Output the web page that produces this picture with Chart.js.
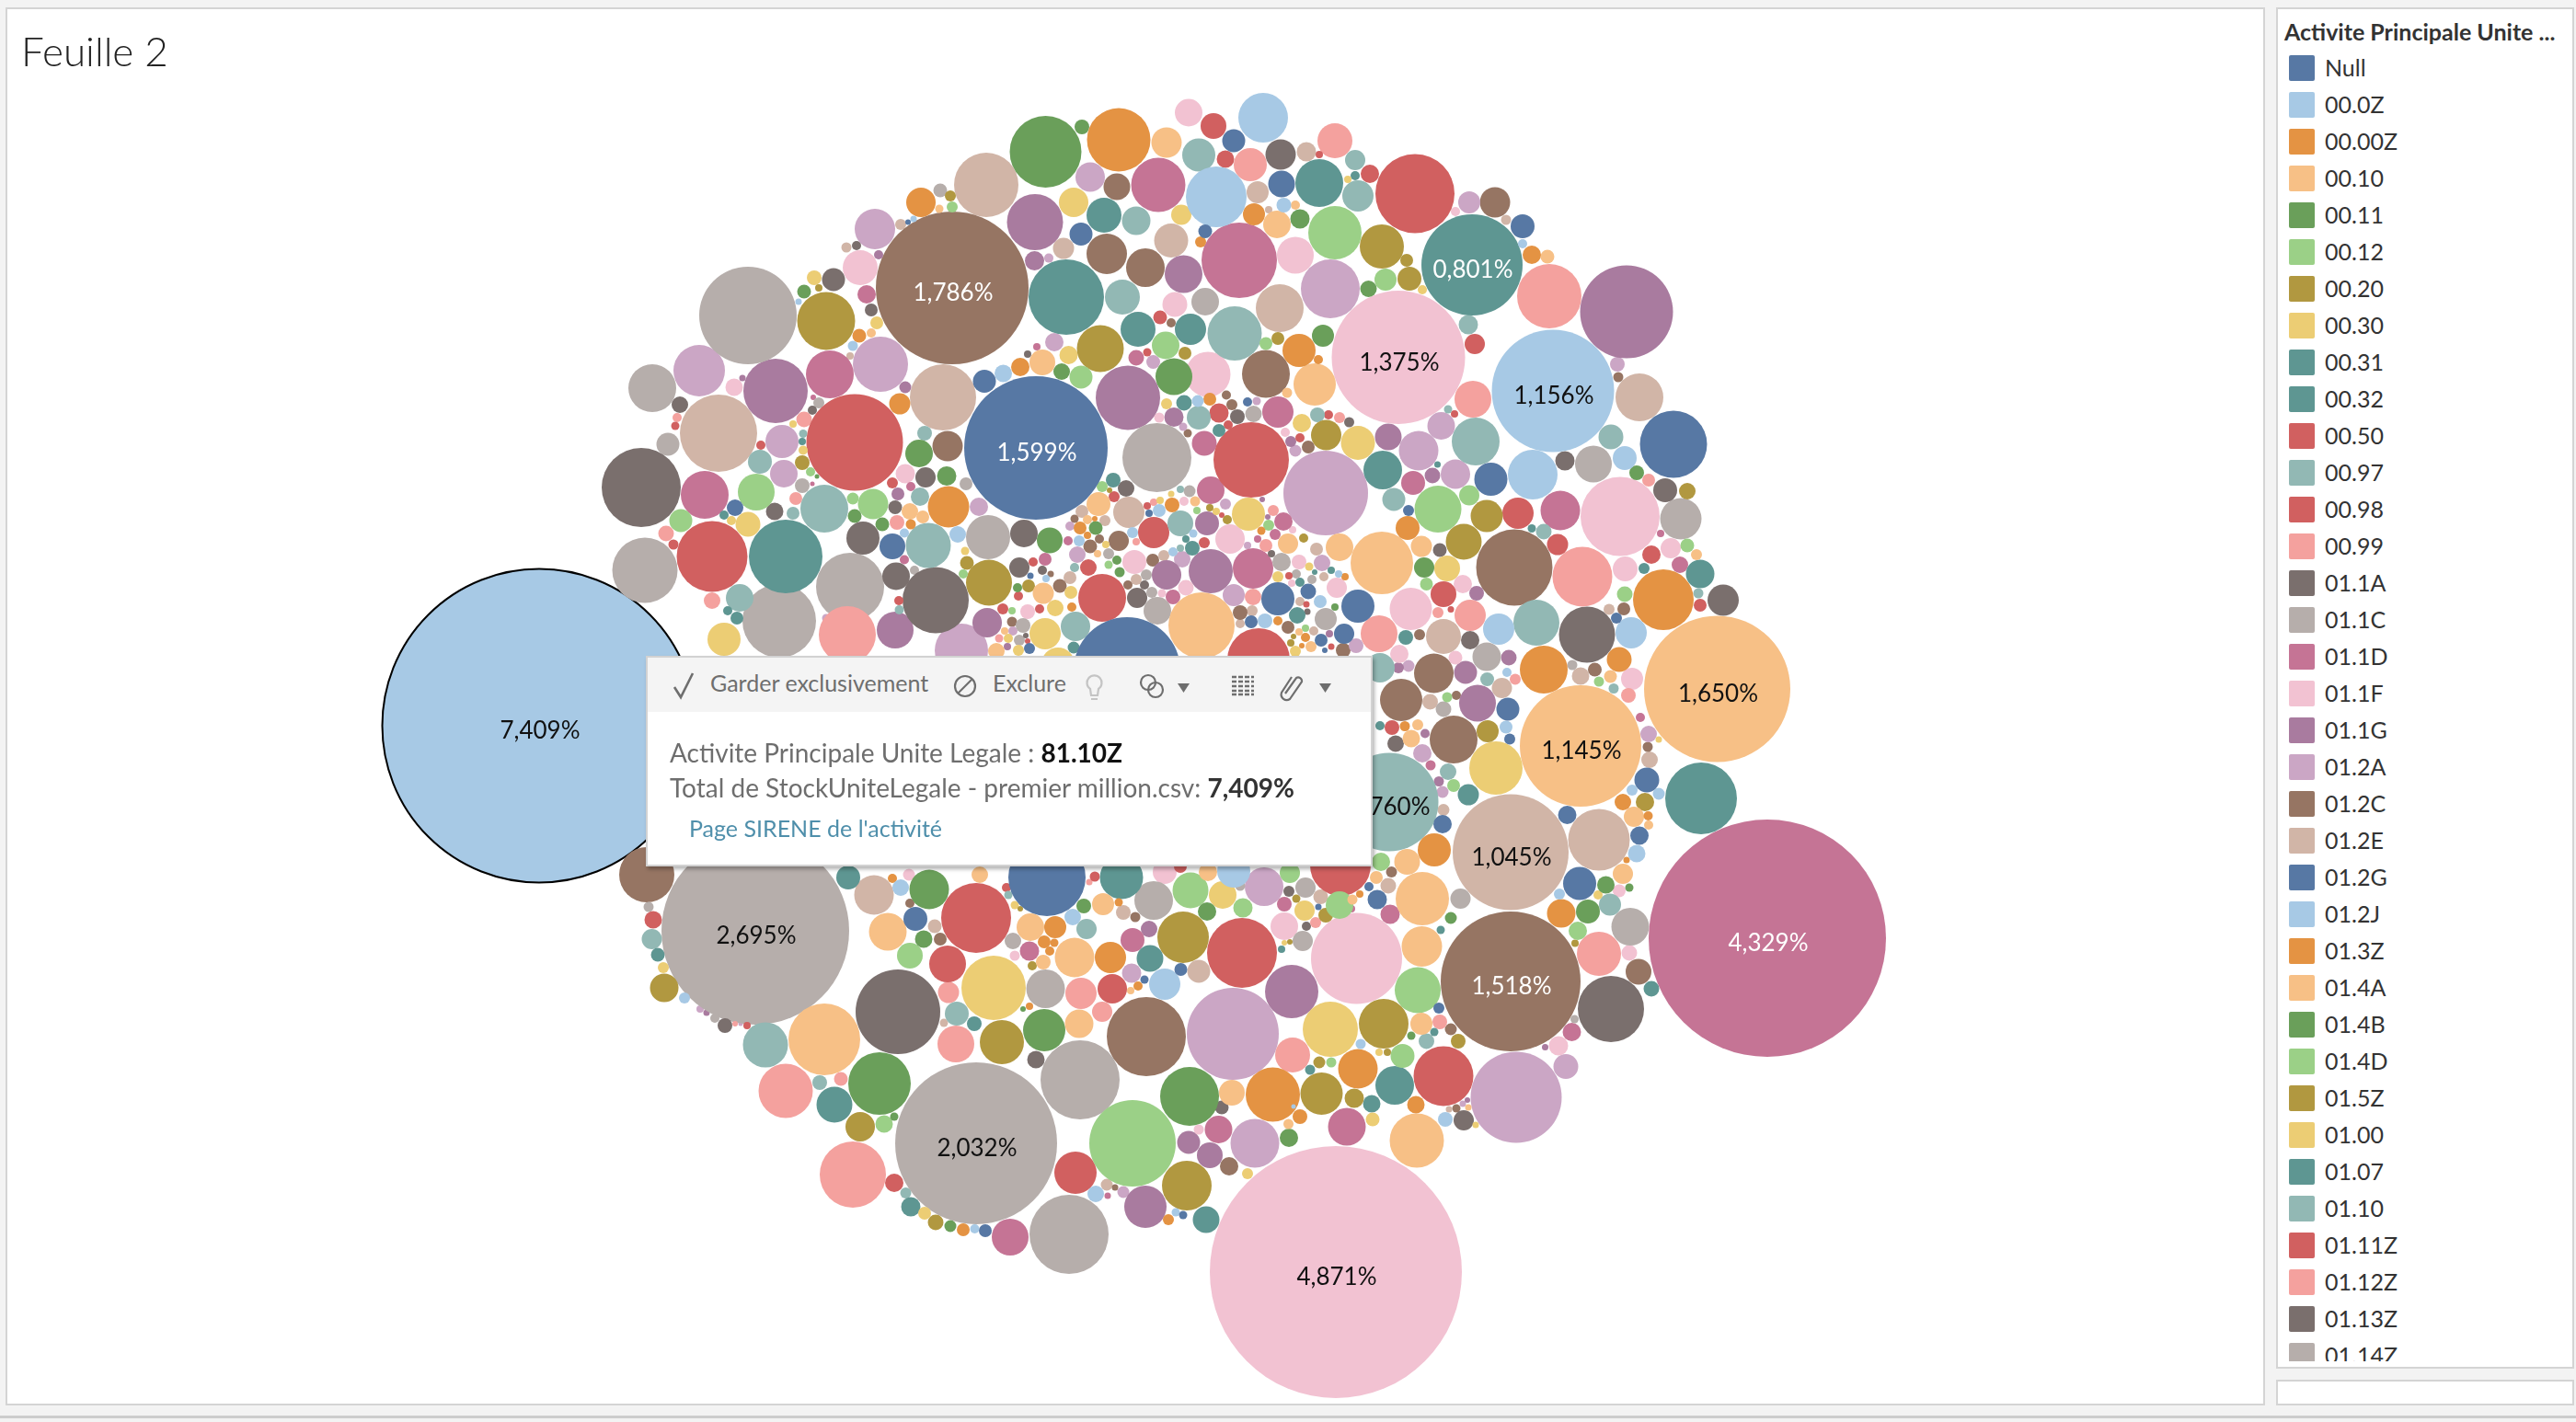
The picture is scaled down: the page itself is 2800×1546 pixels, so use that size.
<!DOCTYPE html>
<html>
<head>
<meta charset="utf-8">
<title>Feuille 2</title>
<script src="https://cdn.jsdelivr.net/npm/chart.js@4"></script>
<style>
  html, body { margin: 0; padding: 0; width: 2800px; height: 1546px; overflow: hidden; background: #f3f3f3; font-family: Lato, "Open Sans", sans-serif; }
  .panel { position: absolute; box-sizing: border-box; background: #fff; border: 2px solid #d4d4d4; }
  #main { left: 6px; top: 8px; width: 2456px; height: 1520px; }
  #side { left: 2474px; top: 8px; width: 324px; height: 1480px; overflow: hidden; }
  #sideLow { left: 2474px; top: 1500px; width: 324px; height: 28px; }
  #bar { position: absolute; left: 0; top: 1539px; width: 2800px; height: 3px; background: #cdcdcd; }
  #title { position: absolute; left: 23px; top: 28px; font-size: 44px; font-weight: 300; color: #222; line-height: 54px; }
  #chart { position: absolute; left: 0; top: 0; }
  #legendTitle { position: absolute; left: 7px; top: 7px; font-size: 25px; font-weight: 700; color: #333; white-space: nowrap; line-height: 34px; }
  #legendBox { position: absolute; left: 0; top: 0; width: 320px; height: 1470px; overflow: hidden; }
  .row { position: absolute; left: 12px; height: 28px; }
  .row i { position: absolute; left: 0; top: 0; width: 28px; height: 28px; border-radius: 2px; }
  .row span { position: absolute; left: 39px; top: -4px; font-size: 25px; line-height: 34px; color: #333; }
  #tip { position: absolute; left: 702px; top: 713px; width: 790px; height: 229px; box-sizing: border-box; background: #fff; border: 2px solid #d2d2d2; box-shadow: 2px 3px 4px rgba(0,0,0,.3); color: #6e6e6e; }
  #tipHead { position: absolute; left: 0; top: 0; right: 0; height: 59px; background: #f4f4f4; }
  #tip div.t { position: absolute; white-space: nowrap; font-size: 25px; line-height: 34px; }
  #tip div.body { font-size: 28px; }
  #tip svg { position: absolute; left: 0; top: 0; }
  #tip b { color: #111; font-weight: 700; }
</style>
</head>
<body>
<div id="main" class="panel"></div>
<div id="side" class="panel"><div id="legendBox"></div><div id="legendTitle">Activite Principale Unite ...</div></div>
<div id="sideLow" class="panel"></div>
<div id="bar"></div>
<canvas id="chart" width="2800" height="1546"></canvas>
<div id="title">Feuille 2</div>
<div id="tip">
  <div id="tipHead"></div>
  <svg width="786" height="59" fill="none" stroke="#6e6e6e" stroke-width="2.2">
    <path d="M29 32 L36 43 L49 17" stroke-width="2.6"/>
    <circle cx="345" cy="31" r="11"/><path d="M337 39 L353 23"/>
    <path d="M490 34 a8 8 0 1 0 -9 0 l1 7 h7 z M482 45 h7" stroke="#c4c4c4"/>
    <circle cx="544" cy="27" r="8"/><circle cx="552" cy="35" r="8"/>
    <path d="M576 28 h13 l-6.500 10 z" fill="#6e6e6e" stroke="none"/>
    <path d="M635 21 h24 M635 26 h24 M635 31 h24 M635 36 h24 M635 40 h24" stroke-dasharray="5 2" stroke-width="2.4"/>
    <path d="M693 39 l12 -17 a4 4 0 0 1 6 4 l-13 19 a6 6 0 0 1 -9 -7 l11 -17" />
    <path d="M730 28 h13 l-6.500 10 z" fill="#6e6e6e" stroke="none"/>
  </svg>
  <div class="t" style="left:68px;top:10px">Garder exclusivement</div>
  <div class="t" style="left:375px;top:10px">Exclure</div>
  <div class="t body" style="left:24px;top:86px">Activite Principale Unite Legale : <b>81.10Z</b></div>
  <div class="t body" style="left:24px;top:124px">Total de StockUniteLegale - premier million.csv: <b style="color:#333">7,409%</b></div>
  <div class="t" style="left:45px;top:168px;color:#4f8fab">Page SIRENE de l'activité</div>
</div>
<script>
// legend entries, in reading order
const legendCategories = ['Null','00.0Z','00.00Z','00.10','00.11','00.12','00.20','00.30','00.31','00.32','00.50','00.97','00.98','00.99','01.1A','01.1C','01.1D','01.1F','01.1G','01.2A','01.2C','01.2E','01.2G','01.2J','01.3Z','01.4A','01.4B','01.4D','01.5Z','01.00','01.07','01.10','01.11Z','01.12Z','01.13Z','01.14Z'];
const legendGroups = ['bl','lb','or','lo','gn','lg','ol','ye','te','te','re','lt','re','pk','dg','ly','ma','lp','pu','lv','br','ta','bl','lb','or','lo','gn','lg','ol','ye','te','lt','re','pk','dg','ly'];

const palette = {
  bl:'#5778a4', lb:'#a7c9e5', or:'#e49343', lo:'#f7c086', gn:'#6a9f5a', lg:'#9bd087', ol:'#b19840', ye:'#eccd74', te:'#5e9692', lt:'#92b8b4',
  re:'#d16060', pk:'#f4a19e', dg:'#7a6f6d', ly:'#b6aeab', ma:'#c57495', lp:'#f2c2d2', pu:'#a97b9f', lv:'#cba6c5', br:'#967563', ta:'#d1b5a7'
};

// bubbles: x, y, size, group, label
const selected = [[586,789,170.5,'lb','7,409%']];

const big = [
  [1035,313,83,'br','1,786%'],[1126,487,78,'bl','1,599%'],[1520,388.5,72.5,'lp','1,375%'],[1600,288,55,'te','0,801%'],[1688,425,66.5,'lb','1,156%'],
  [1866.5,749,79.5,'lo','1,650%'],[1718,811,66,'lo','1,145%'],[1510,872,53.5,'lt','1,760%'],[1642,926.5,63,'ta','1,045%'],[1642,1067,76,'br','1,518%'],
  [1921,1020,129,'ma','4,329%'],[1452,1383,137,'lp','4,871%'],[1061,1243,88,'ly','2,032%'],[821,1012,102,'ly','2,695%']
];

const northWest = [
  [697,530,43,'dg'],[813,343,53,'ly'],[709,422,26,'ly'],[760,403,28,'lv'],[781,471,42,'ta'],[843,425,35,'pu'],[902,407,26,'ma'],[957,396,30,'lv'],[898,349,31.5,'ol'],
  [1072,201,35,'ta'],[1136.5,165,39,'gn'],[1176,138,8,'gn'],[1216,152,34.5,'or'],[1292,122.5,15,'lp'],[1268,155,16.5,'lo'],[1303,168.5,18,'lt'],[1185,192.5,16,'lv'],
  [1214,203,14.5,'br'],[1259,201,29.5,'ma'],[1125,241.5,30.5,'pu'],[1167,220,16,'ye'],[1200,234,19,'te'],[1235,240,15.5,'lt'],[1284,233.5,11,'ye'],[1175,254.5,12.5,'bl'],
  [1273,261.5,18.5,'ta'],[1203,276,22,'br'],[1245,291,21,'br'],[1156,270,11.5,'ta'],[1124.5,283.6,10.5,'pu'],[1140,280.6,5,'lv'],[1159,323,41,'te'],[1220,323,19,'lt'],
  [1286.5,298,20.5,'pu'],[1277,331,13.5,'lp'],[1310,328,15,'ly'],[1237,358,19,'te'],[1294,358,17,'te'],[1261,345,7.5,'re'],[1273,351,5,'br'],[1196,379,25.5,'ol'],
  [1267,375.5,15,'lg'],[1288,384,7,'ol'],[1235,389,8.5,'ma'],[1247,383,4.5,'re'],[1253.5,393.5,7.5,'lv'],[1276,409.5,20,'gn'],[1226,432.5,35,'pu'],[1313,407,24.5,'lp'],
  [1025,432,36,'ta'],[984,421,6.5,'pu'],[978,439,11.5,'or'],[929,481,52.5,'re'],[1070,414.5,12.5,'bl'],[1090.5,406,9.5,'lb'],[1109,399,10,'or'],[1133,394,14,'lo'],
  [1146,372,10,'lv'],[1161.5,386,10,'ye'],[1154,404,9,'gn'],[1175,410,12.5,'lg'],[1127,377,4,'ma'],[1117,385,4,'dg'],[1001,220,16,'or'],[1022,207,7.5,'ly'],[1033,213,6,'ol'],
  [1035,225,6,'lg'],[1021,227,4.5,'lo'],[951,249,22,'lv'],[979,244,6,'ta'],[987,241.5,3,'bl'],[993,238,3.5,'lb'],[935,291,19,'lp'],[955,277,5,'pu'],[920,269,5.5,'ta'],
  [931,267,5,'dg'],[885,302,8,'ye'],[906,304,12.5,'dg'],[874,317,7.5,'gn'],[890,313,4,'ol'],[868,328,3.5,'lb'],[942,320,10,'ma'],[947,337,7,'dg'],[953,351,7,'ye'],
  [934,365,7.5,'or'],[947,362,5,'lo'],[927,376,5.5,'lb'],[924,387,4,'ta'],[798,421,9.500,'lp'],[807,411,3.5,'pu'],[739,440,9,'dg'],[736,454,5,'pk'],[734,463,4.5,'re'],
  [726,483,12.5,'ly'],[850,480,18,'lv'],[852,515,15,'lv'],[826,502,13,'lt'],[827,484,5,'re'],[874,456,8.5,'pk'],[862,461,4,'ye'],[873,471.5,4.5,'lt'],[872,480,4,'te'],
  [873,489.5,5,'ye'],[872,503,8,'ol'],[890,438,6,'ly'],[883,446,5,'dg'],[884,432,3,'ma'],[881,513,5,'lg'],[888,518,2.500,'gn'],[872,528,8,'ly'],[883,526,2.500,'ma'],
  [766,538,26,'ma'],[822,535,20,'lg'],[896,553,26,'lt'],[949,548,16.5,'lg'],[927,542,6.5,'lg'],[929,561,7.5,'gn'],[938,585,18,'dg'],[959,570,7.5,'gn'],[970,594,14,'bl'],
  [1009,593,24.5,'lt'],[1031,551,22.5,'or'],[1041,581,9,'lb'],[1064,551,10,'lv'],[1074,584,24,'ly'],[1113,580,15,'dg'],[1141,587.5,14,'gn'],[1030,485,16.5,'br'],[999,493,15,'gn'],
  [1005,471,8,'lt'],[1006,519,11,'dg'],[1029,517.5,10.5,'gn'],[984,515,10.5,'lp'],[1050,526,7,'ly'],[970,525,6,'re'],[990,529,5,'ma'],[976,537,7,'pu'],[973,551.5,7.5,'dg'],
  [1000,540,10,'lt'],[989,556,9,'lo'],[1003,562,7,'lo'],[975,568,8,'pk'],[990,570,5.5,'or'],[983,579.5,5,'lb'],[740,566,12.5,'lg'],[799,552,9,'bl'],[787,560,5,'te'],
  [813,570,13.5,'ye'],[795,566,5,'ye'],[842,556,9.5,'dg'],[862,558,7,'lt'],[865,542,7,'pk'],[724,580,8.5,'pk'],[732,592,5.5,'re'],[774,605,38.5,'re'],[854,605,40,'te'],
  [701,620,35.5,'ly'],[774,653,9,'pk'],[804,650,15,'lt'],[791,664,5,'te'],[801,672,7,'te'],[924,638,37,'ly'],[974,626.5,15,'dg'],[994,620,5,'ly'],[1017,652.5,36,'dg'],
  [1075,633.5,25,'ol'],[1051,612,7.5,'ol'],[1049,599,4.5,'ye'],[1047,624,5,'lg'],[983,608.5,5,'ma'],[977,653,5,'re'],[977.5,663,5,'lt'],[787,695,18,'ye'],[847,675,40,'ly'],
  [898,672,4.5,'lv'],[921,690,31,'pk'],[973,685,20,'pu']
];

const centre = [
  [1108,617,11,'dg'],[1123,611,5,'re'],[1136,608,7,'ma'],[1133,620,5,'dg'],[1118,637,7,'ol'],[1106,639,5,'gn'],[1107,648,5,'re'],[1134,645,11.5,'lo'],[1164,644,7,'ye'],
  [1152,637,7.5,'br'],[1163,628,7,'ta'],[1168,617,5,'lt'],[1171,603,9,'lv'],[1173,588,6,'lb'],[1161,588,5,'ma'],[1198,529,6,'lg'],[1210,522,8,'te'],[1224,531,9,'dg'],
  [1206,533,3,'ol'],[1211,540,6,'re'],[1194,548,13,'lo'],[1227,557,17,'ta'],[1176,556,7,'ta'],[1168,564,4.5,'br'],[1182,565,5,'lo'],[1190,564,3,'or'],[1201,566,6,'ta'],
  [1174,574,7,'or'],[1191,574,7.5,'gn'],[1163,572,5,'lv'],[1182,582,4,'or'],[1195,586,5,'br'],[1185,594,7.5,'br'],[1202,592,4,'ye'],[1216,588,11,'br'],[1231,579,6,'lb'],
  [1254,579,17,'re'],[1235,589,4,'pk'],[1233,611,13,'lp'],[1183,617,9,'re'],[1205,614,4.5,'lg'],[1217,622,5.5,'gn'],[1214,609,5,'gn'],[1205,602,6,'ly'],[1193,602,4,'lo'],
  [1198,650,26,'re'],[1236,650,11,'dg'],[1226,636,5,'br'],[1235,630,6,'ta'],[1246,625,6,'ly'],[1253,609,7,'br'],[1265,604,6,'ta'],[1285,608,9,'lv'],[1268,625,16,'pu'],
  [1244,636,5,'dg'],[1252,644,6,'ly'],[1263,645,4.5,'lp'],[1275,649,8,'ma'],[1289,639,8.5,'lp'],[1258,664,15,'ly'],[1306,680,36,'lo'],[1225,729,58,'bl'],[1167,704,6.5,'te'],
  [1150,722,18,'ye'],[1169,681,16,'lt'],[1136,689,17,'ye'],[1083,708,9,'lo'],[1045,707,29,'lv'],[1073,677,16,'pu'],[1090,662,6,'re'],[1100,664,4,'lg'],[1101,686,5,'lv'],
  [1092,686,4,'lo'],[1100,676,5.5,'br'],[1112,680,8,'ly'],[1117,665,8,'lp'],[1130,662,5,'re'],[1147,661,9,'ye'],[1108,696,6,'ly'],[1119,705,6,'bl'],[1107,707,6,'ye'],
  [1096,694,5,'ye'],[1095,703,4,'pu'],[1086,694,4.5,'pk'],[1115,691,3,'dg'],[1117,697,3,'re'],[1165,660,5,'or'],[1137,629,4,'lb'],[1142,624,3.5,'br'],[1120,626,3.5,'bl'],
  [1283,569,14,'lt'],[1312,569,13,'pu'],[1274,549,8,'or'],[1260,555,7,'lb'],[1293,534,6.5,'ly'],[1316,533,15,'ma'],[1283,532,4,'lt'],[1273,537,3.5,'ye'],[1299,545,5.5,'lo'],
  [1261,544,4,'ye'],[1254,546,4,'pk'],[1247,550,4,'re'],[1249,558,4,'bl'],[1287,545,5,'lp'],[1301,555,4,'lg'],[1315,552,4,'ol'],[1322,556,4,'ye'],[1328,560,3,'re'],[1334,565,5,'ol'],
  [1332,548,6,'lv'],[1357,559,18,'ye'],[1360,500,41,'re'],[1441,536,46,'lv'],[1372,543,3,'pu'],[1384,555,6,'pk'],[1378,562,3,'pu'],[1395,567,10,'ma'],[1379,571,6,'lg'],
  [1386,581,6,'ma'],[1371,577,4.5,'or'],[1400,591,11,'lo'],[1337,586,16,'lp'],[1405,576,4,'lp'],[1417,585,5,'ol'],[1367,586,4,'ma'],[1376,593,7,'pk'],[1356,593,4,'lv'],
  [1296,596,8,'te'],[1309,590,6,'re'],[1289,586,4,'te'],[1283,596,4,'lt'],[1275,600,5,'lb'],[1297,580,4.5,'lb'],[1316,621,24,'pu'],[1362,618,22,'ma'],[1393,611,10,'ly'],
  [1382,602,4,'dg'],[1431,597,7,'ta'],[1456,595,15,'lo'],[1412,611,8,'lp'],[1437,612,9,'lv'],[1423,616,4.5,'ye'],[1409,624,5,'ly'],[1401,626,4,'re'],[1389,627,6,'ye'],
  [1404,634,4,'lp'],[1413,633,5,'te'],[1426,630,5,'ly'],[1429,622,3,'te'],[1439,627,5,'ta'],[1447,620,4,'te'],[1455,624,4,'lb'],[1462,627,4,'or'],[1453,639,11,'lp'],
  [1389,651,18,'bl'],[1422,643,8.5,'bl'],[1476,659,18,'bl'],[1362,649,9,'pk'],[1341,647,12,'lv'],[1361,664,6,'ta'],[1348,666,8,'br'],[1360,676,7,'bl'],[1375,675,8,'lb'],
  [1348,678,5,'ta'],[1368,717,34,'re'],[1413,654,5,'ta'],[1435,654,7,'lb'],[1441,673,12,'ly'],[1410,669,9,'te'],[1421,665,3.5,'dg'],[1420,657,3.5,'re'],[1451,660,4,'gn'],
  [1389,675,5,'or'],[1400,682,7,'br'],[1412,687,4,'lo'],[1419,683,4,'lg'],[1428,686,5,'ta'],[1419,693,5,'or'],[1436,696,7,'bl'],[1461,689,11,'bl'],[1445,689,4,'pu'],
  [1403,699,4,'ol'],[1406,692,3,'ol'],[1408,708,6,'ye'],[1415,702,3,'or'],[1425,703,6,'lo'],[1447,703,3.5,'re'],[1440,707,3,'bl'],[1474,702,8,'lv'],[1460,707,8,'br']
];

const northEast = [
  [1373,128,27,'lb'],[1319,137,14,'re'],[1341,153,12.5,'bl'],[1332,173,9.5,'re'],[1359,179,18,'pk'],[1392,168,16.5,'dg'],[1420,165,10.5,'ta'],[1451,153,19,'pk'],[1434,168,4,'re'],
  [1473,174,11,'lt'],[1473,191,5,'te'],[1465,195,4,'ye'],[1489,189,10,'re'],[1434,199,26,'te'],[1393,200,14.5,'bl'],[1476,213,17,'lt'],[1322,214,33,'lb'],[1367,209,12,'ta'],
  [1538,210.5,43,'re'],[1597,220,12,'lv'],[1625,220,16.5,'br'],[1637,239,5.5,'ta'],[1582,230,5,'lp'],[1395.5,223,8,'lb'],[1408,223,5,'lo'],[1379,228,4,'ta'],[1363,233,12,'or'],
  [1388,244,15,'lo'],[1413,238,10.5,'gn'],[1451,253,29,'lg'],[1655,246,13,'bl'],[1655,265,5,'lb'],[1665,277,10,'or'],[1682,279,7.5,'lo'],[1310,251.5,7.5,'bl'],[1305,263,6,'or'],
  [1347,283,41,'ma'],[1408,277.5,20,'lp'],[1502,268,24,'ol'],[1529,283,7,'ol'],[1532,303,13,'ol'],[1506,304,12,'lg'],[1487.5,314,9,'gn'],[1546,315,5,'ye'],[1684,322,35,'pk'],
  [1768,339,50.5,'pu'],[1446,314,32,'lv'],[1391,335,26,'ta'],[1342,362.5,29.5,'lt'],[1596,353,10.5,'lt'],[1603,374,11,'re'],[1758,396,8,'lv'],[1759,410,5.5,'br'],[1782,432,26,'ta'],
  [1819,483,36.5,'bl'],[1376,373.5,7,'lg'],[1389,368,7,'ol'],[1438,365,12,'gn'],[1412,381,18,'or'],[1433,391,5,'or'],[1376,406.5,26,'br'],[1429,418,23,'lo'],[1399,427,5.5,'lo'],
  [1601,434,20,'pk'],[1566.5,463,15,'lv'],[1581,450,4,'re'],[1574,445,4.5,'lt'],[1604,480,26,'lt'],[1751,475,13.5,'lt'],[1732,504.5,20,'ly'],[1766,498,13,'lb'],[1666,516,27,'lb'],
  [1701,501,10.5,'dg'],[1779,514,8,'gn'],[1792,522,7,'pk'],[1810,533,13,'dg'],[1834,534,9,'ol'],[1827,564,22.5,'ly'],[1761,561.5,43,'lp'],[1696,555,21.5,'ma'],[1650,558,17,'re'],
  [1616,561,17.5,'ol'],[1597,538.5,11,'lg'],[1563,553.5,25.5,'lg'],[1620.5,521,18,'bl'],[1582,515.5,16,'lv'],[1557,517,8.5,'pu'],[1562.5,505,3.5,'te'],[1536,525,13,'ma'],
  [1542,490,21.5,'lv'],[1509,475,14.5,'pu'],[1503,511,21,'te'],[1515,543,12.5,'lt'],[1531,555,6,'bl'],[1530,574,13,'or'],[1476,481.5,18.5,'ye'],[1441.5,473,16.5,'ol'],[1422,486,7,'br'],
  [1408,490,6.500,'lv'],[1403,480,6,'pu'],[1413,476,5,'re'],[1415,460,10,'ye'],[1432,451,8,'lt'],[1444,451,5,'re'],[1456,454,6,'pk'],[1466.5,459,5.5,'dg'],[1397,470,5,'lp'],
  [1389,448,17,'ma'],[1362.5,450,9,'ly'],[1345,453,8,'dg'],[1325,449,10.5,'re'],[1339,440,6,'br'],[1315,434,7,'or'],[1333,429.5,5,'br'],[1356,437,5,'bl'],[1366,436,4.5,'lv'],
  [1303,454,13,'lt'],[1325,468,7,'te'],[1335,462,5,'re'],[1309,482,13.5,'ma'],[1502,612,34,'lo'],[1545,594,11.5,'lo'],[1565,598,7.5,'dg'],[1591,589,19.5,'ol'],[1646,617,41.5,'br'],
  [1720,627,32.5,'pk'],[1678,578,8.5,'lt'],[1665,574.5,4.5,'te'],[1693,592,11.5,'re'],[1766.5,618.5,13.5,'lp'],[1795,603,10,'re'],[1816,596,11,'lp'],[1834,593,7.5,'lg'],[1844,603,6,'lo'],
  [1805,580,4,'ma'],[1826,614,9,'ma'],[1787,618,6,'te'],[1848,624,15.5,'te'],[1846,645,5.5,'lt'],[1848,658,7,'re'],[1873,652.5,17,'dg'],[1808,652,33,'or'],[1766,646,8.5,'lg'],
  [1765,662,7,'br'],[1749,662.5,6,'ta'],[1757,672,6,'bl'],[1773,688,17,'lb'],[1725,690,30.5,'dg'],[1670,677,25,'lt'],[1629,684,17,'lb'],[1598,669,17,'pk'],[1533.5,662,23,'lp'],
  [1569,646,14,'re'],[1590,635,10,'lp'],[1605,645,8,'pu'],[1573,618,14,'ye'],[1548,617,11,'gn'],[1550.5,635,7,'lg'],[1563,666,6,'pk'],[1577,662.5,3.5,'re'],
  [1257.5,497.5,37.5,'ly'],[1302,436,6.5,'lb'],[1287,438,8.5,'te'],[1276,453.5,10.5,'pu'],[1268,439,6,'ye'],[1260,454,5.5,'lp'],[1291,471,4.5,'br'],[1286,464,4.500,'lv']
];

const east = [
  [1499,689,20,'pk'],[1569,692,19,'ta'],[1598,696,10,'dg'],[1528,693,8,'te'],[1543,690,6,'br'],[1678,728,26,'or'],[1616,714,15.5,'ly'],[1640,715,8.5,'pu'],[1582,715,7.5,'lp'],
  [1558.5,732,21.5,'br'],[1593,731,12.5,'pu'],[1616.5,738.5,7.5,'lt'],[1638,731,5,'lb'],[1647,738.5,6,'pk'],[1709,723,5.5,'ly'],[1718,735,9.5,'ta'],[1733.5,728,7.5,'br'],[1760,717,13.5,'or'],
  [1750.5,735.5,7,'lo'],[1738,741,5.5,'lg'],[1774,738,12,'lp'],[1754,748.5,5.5,'lt'],[1770,756,8,'pk'],[1783,780,5,'ma'],[1792,798,9,'lv'],[1791,812,5.5,'br'],[1793,826,9,'ta'],
  [1803,804,3.5,'ye'],[1849,868,39,'te'],[1790,848,13.5,'bl'],[1803,863,6.5,'lb'],[1788,872,10,'ol'],[1764,872,9,'or'],[1774,859,6,'lb'],[1776,888,11,'lo'],[1791.5,887,5,'or'],
  [1792,897,5,'lo'],[1782,908.5,10,'bl'],[1779,928,9.5,'lb'],[1768,935,3.500,'or'],[1764,950,11,'lo'],[1738,913,33.5,'ta'],[1703.5,886,10,'bl'],[1717,960.5,18,'bl'],[1745.5,962,9.5,'gn'],
  [1771,965,4.5,'gn'],[1760,968.5,7,'lp'],[1750,983.5,12,'lt'],[1737,973,5,'ye'],[1695,972,6,'lb'],[1697,993,15.5,'or'],[1726,991,13,'gn'],[1715,1012,10,'lg'],[1712,1025.5,4,'ol'],
  [1772,1007.5,20.5,'ly'],[1738,1037,24,'pk'],[1771,1036,8.5,'lp'],[1781,1056.5,14,'br'],[1795,1075,8.5,'te'],[1751,1097,36,'dg'],[1711.5,1108,4.5,'ly'],[1708.5,1122,10,'ma'],
  [1694,1137,10.5,'lp'],[1679.5,1138.5,3.5,'pu'],[1702,1159.5,13.5,'lv'],[1648,1193,49.5,'lv'],[1474.5,1042,49.5,'lp'],[1545.5,1029,22,'lo'],[1546,977,29,'lo'],[1541,1076.5,25,'lg'],
  [1497,978,10.5,'bl'],[1587.5,977,11,'ly'],[1511,994,10.5,'ma'],[1559,924,18,'or'],[1529.5,937,14,'lo'],[1501,937,10,'lg'],[1512.5,948,6,'br'],[1626,835,29,'ye'],[1596,864,11.5,'te'],
  [1580,854,7,'lg'],[1546,819,10,'lv'],[1555,832,5.5,'ma'],[1574,839,9,'lt'],[1564,849.5,5.5,'pu'],[1568,861,6.5,'lv'],[1569,880.5,6.5,'ta'],[1568,896,10,'bl'],[1580,804,26,'br'],
  [1617,795,12,'ol'],[1637,790.5,7,'lb'],[1641,803.5,6,'bl'],[1639,771,12.5,'bl'],[1606,764.5,20,'pu'],[1632.5,748,11,'ta'],[1569,771,8.5,'ly'],[1583,756,5,'br'],[1573,758,5.5,'lg'],
  [1554.5,763,8.5,'ta'],[1523,761,23,'br'],[1517,808.5,9,'dg'],[1534,803,9.5,'lo'],[1513,791,8,'re'],[1527,789.5,5.5,'or'],[1541,788,6,'lo'],[1549,797.5,5,'pu'],[1500,789,5,'te'],
  [1520,726,6,'pu'],[1531,724,6.5,'lv'],[1521,711,10,'lp'],[1500,726,16,'lt'],[1457,941,33,'re'],[1577,998,6.5,'gn'],[1566,1011,4.5,'te'],[1469,988,4,'ma'],[1456,984,15,'lg'],
  [1470,978,5.5,'lo'],[1478,972,4,'or'],[1488,964,5,'bl'],[1509,963,8.5,'ta'],[1496,954,7,'lo'],[1569,1170,32.5,'re'],[1516,1180,21,'te'],[1476,1162,21.5,'or'],[1504,1113,27,'ol'],
  [1524.5,1148,13,'lg'],[1479,1135,5.5,'lb'],[1508,1144,4,'ol'],[1499,1144,4,'ye'],[1545,1113,12,'lo'],[1564,1096,6,'bl'],[1565,1111,8,'pk'],[1577,1119,6.5,'br'],[1534,1126,4.5,'gn'],
  [1559,1122,4.5,'te'],[1550.5,1132,8.5,'lt'],[1585,1132,8,'ol'],[1472,1194,10.5,'ol'],[1491,1200,9.5,'te'],[1492,1217,7.5,'ye'],[1464,1225,20.5,'ma'],[1539,1201,9.5,'or'],[1540,1240,29.5,'lo'],
  [1571,1217,8,'lb'],[1591,1218,11,'dg'],[1583,1205,4.5,'br'],[1590,1200,3.5,'lv'],[1596,1204,3.5,'lo'],[1595,1196,3,'pu'],[1575,1206,3.5,'ta'],[1604,1223,3.5,'ye']
];

const south = [
  [703,951,30,'br'],[705,986,5.5,'ly'],[710,1000,9.5,'re'],[708.5,1021,11,'lt'],[715,1038,7.5,'te'],[721,1052,6,'ye'],[722,1074,15.5,'ol'],[744,1085,6,'lb'],[761,1097,4,'lv'],[768,1101,3.5,'pu'],
  [777,1107,5,'ly'],[788,1115,8,'dg'],[799,1113,3,'pk'],[805,1113,2.5,'lv'],[812,1115,4,'re'],[832,1136,24.5,'lt'],[896,1130,39,'lo'],[854,1186,29.5,'pk'],[891,1177,8,'lt'],[914,1173,7.5,'pk'],
  [907,1201,19.5,'te'],[956,1178,34,'gn'],[935,1225,16,'ol'],[961,1222,9.5,'lg'],[972,1214,4.5,'gn'],[976,1100,46,'dg'],[927,1277,36,'pk'],[972,1286,10,'re'],[984.5,1297,6,'lt'],[990,1312,10.5,'te'],
  [1005,1319,7,'ye'],[1017,1329,8.5,'ol'],[1033,1333,6.5,'gn'],[1047,1337,7,'or'],[1059.5,1336,5,'lb'],[1071,1338,7,'bl'],[1098,1345,20,'ma'],[1162,1342,43,'ly'],[1169,1275,23,'re'],[1231,1243,47,'lg'],
  [1174,1174,43,'ly'],[1126,1152,9.5,'dg'],[1246,1127,43,'br'],[1340,1124,50,'lv'],[1293,1192,32,'gn'],[1339,1188,14,'lo'],[1383.5,1190,29.5,'or'],[1436.5,1189,23,'ol'],[1405,1147,19,'pk'],[1446,1119,30,'ye'],
  [1404,1078,29,'pu'],[1350,1036,38,'re'],[1286,1019,28,'ol'],[1294,968,19.5,'lg'],[1329,973,15,'ye'],[1351,987,10.5,'lg'],[1374,964,21,'lv'],[1312,991,10,'gn'],[1254,979,21,'ly'],[1138,954,42,'bl'],
  [1219,954,23.5,'te'],[1061,998,38,'re'],[1010,967,21.5,'gn'],[950,973,21.5,'ta'],[922,954,13,'te'],[979,965,9,'lb'],[970,955,5,'or'],[988,951,6.5,'lp'],[995,999,13,'bl'],[1016,1007,7.5,'ta'],
  [989,982,5,'br'],[965,1013,20.5,'lo'],[1004,1021,9.5,'gn'],[1022,1021,7,'br'],[989,1039,14,'lg'],[1030,1048,20,'re'],[1080,1074,35,'ye'],[1065,951,9,'lo'],[1094,965,5,'re'],[1096,973,4.5,'lt'],
  [1103,984,4.5,'ye'],[1109,988,3,'ol'],[1120,1008,15,'lo'],[1147,1008,12,'or'],[1101,1023,9,'ly'],[1119,1034,10.5,'ma'],[1135,1024,7,'or'],[1146,1025,4.5,'or'],[1141,1034,5,'or'],[1103,1039,5.5,'lp'],
  [1134,1046,8,'lo'],[1122,1050,5,'ol'],[1136.5,1075,21,'ly'],[1031,1079,11.5,'pk'],[1040,1102,13,'lt'],[1059,1113,8,'te'],[1026,1112,4.5,'ta'],[1039,1135,20,'pk'],[1089,1133,24,'ol'],[1135,1120,23,'gn'],
  [1119,1094,4,'or'],[1112,1097,3,'gn'],[1173,1113,15.5,'lo'],[1168,1041,21.5,'lo'],[1175,1080,17,'pk'],[1207,1041,17,'or'],[1209,1075,16,'re'],[1198,1100,11,'pk'],[1230,1058,10.5,'lv'],[1231,1022,13,'ma'],
  [1249,1010,9,'pu'],[1234,997,5.5,'br'],[1221,992,8,'ta'],[1199,983,12,'lo'],[1166,997,9,'lb'],[1181,1010,11,'lt'],[1178,985,8,'gn'],[1216,981,4.5,'or'],[1250,1042,14.5,'te'],[1244,1065,4.5,'bl'],
  [1266,1070,17,'lb'],[1237,1072,5,'or'],[1229,1077,4,'lo'],[1283.5,1054,7,'bl'],[1303,1056,12.5,'ta'],[1396,1007,15,'lp'],[1396,983,8,'ma'],[1418,990,11,'ye'],[1401,969,6,'dg'],[1419,965,11,'ly'],
  [1409,977,4.5,'ol'],[1433,986,3.5,'bl'],[1441,995,8,'ol'],[1435.5,975,8,'ta'],[1430,1003,6,'pk'],[1420,1007,5,'dg'],[1416,1023,11,'ly'],[1396,1025,3,'ye'],[1402,1024,3,'ol'],[1393,1032,4,'te'],
  [1402,949,11,'lg'],[1348,963,5.5,'ly'],[1313,948,10,'lo'],[1341,947,18,'lb'],[1266,948,13,'lp'],[1283,942,7,'re'],[1190,953,5.5,'re'],[1184,959,3.500,'pk'],[1324.5,1228,15,'ma'],
  [1364,1243,26.5,'lv'],[1401,1237,10,'gn'],[1292,1242,12.5,'pu'],[1315,1256,14,'pu'],[1336,1268,10,'br'],[1356,1276,6,'ye'],[1290,1289,27,'ol'],[1245,1312,23,'pu'],[1311,1326,14.5,'te'],[1191,1298,9,'lb'],
  [1203,1288,6.5,'ta'],[1204,1300,3.5,'ma'],[1221,1296,6.5,'lv'],[1212,1291,3.5,'br'],[1278,1318,4.5,'lb'],[1286,1321,4.5,'bl'],[1270,1326,6,'or'],[1328,1204,7.5,'dg'],[1303,1228,5.5,'lp'],[1434,1155,6.5,'ol'],
  [1447,1155,5.5,'lg'],[1424,1163,5.5,'te'],[1413,1214,8,'or'],[1400.5,1222,5.5,'lo'],[1406,1203,2.5,'lb']
];

// labels drawn in the middle of the marks that carry one
const labelPlugin = {
  id: 'shareLabels',
  afterDatasetsDraw(chart) {
    const ctx = chart.ctx;
    ctx.save();
    ctx.font = '26px Lato, "Open Sans", sans-serif';
    ctx.textAlign = 'center';
    ctx.textBaseline = 'middle';
    chart.data.datasets.forEach((ds, i) => {
      const meta = chart.getDatasetMeta(i);
      ds.data.forEach((d, j) => {
        if (!d.label) return;
        const el = meta.data[j];
        ctx.fillStyle = ['bl','br','ma','te'].includes(d.group) ? '#fff' : '#111';
        ctx.fillText(d.label, el.x + 1, el.y + 6);
      });
    });
    ctx.restore();
  }
};

// one dataset per colour group
const allBubbles = [].concat(big, northWest, centre, northEast, east, south);
const datasets = Object.keys(palette).map(group => ({
  label: group,
  backgroundColor: palette[group],
  borderWidth: 0,
  hoverBorderWidth: 0,
  data: allBubbles.filter(b => b[3] === group).map(b => ({ x: b[0], y: b[1], r: b[2], group, label: b[4] }))
}));
datasets.push({
  label: 'selected',
  backgroundColor: palette.lb,
  borderColor: '#000',
  borderWidth: 2,
  data: selected.map(b => ({ x: b[0], y: b[1], r: b[2], group: b[3], label: b[4] }))
});

new Chart(document.getElementById('chart'), {
  type: 'bubble',
  data: { datasets },
  options: {
    responsive: false,
    animation: false,
    devicePixelRatio: 1,
    layout: { padding: 0, autoPadding: false },
    clip: false,
    events: [],
    plugins: { legend: { display: false }, tooltip: { enabled: false }, title: { display: false } },
    scales: {
      x: { type: 'linear', min: 0, max: 2800, display: false },
      y: { type: 'linear', min: 0, max: 1546, reverse: true, display: false }
    }
  },
  plugins: [labelPlugin]
});

// html legend
const legendBox = document.getElementById('legendBox');
legendCategories.forEach((name, i) => {
  const row = document.createElement('div');
  row.className = 'row';
  row.style.top = (50 + i * 40) + 'px';
  row.innerHTML = '<i style="background:' + palette[legendGroups[i]] + '"></i><span>' + name + '</span>';
  legendBox.appendChild(row);
});
</script>
</body>
</html>
